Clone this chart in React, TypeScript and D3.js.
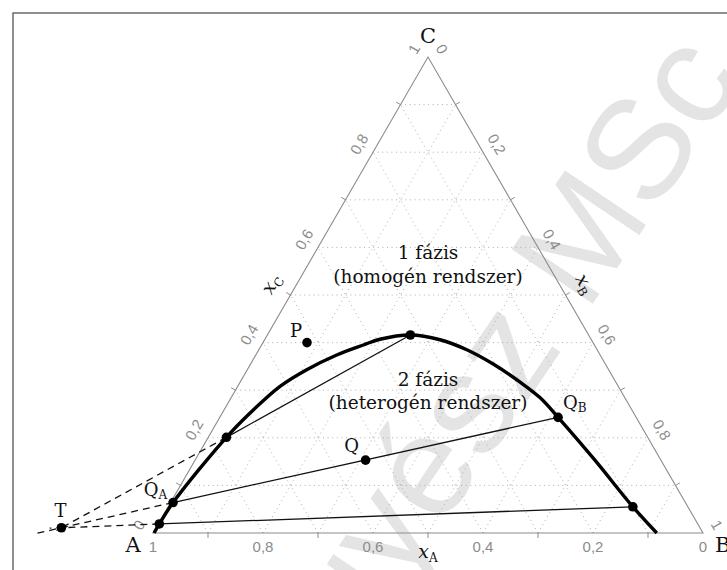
import React from "react";
import * as d3 from "d3";

const W = 727;
const H = 570;

// grid and axis values (fractions)
const gridValues = [0.1, 0.2, 0.3, 0.4, 0.5, 0.6, 0.7, 0.8, 0.9];
const tickValues = [0.1, 0.3, 0.5, 0.7, 0.9];
const labelValues = [0, 0.2, 0.4, 0.6, 0.8, 1];

// binodal curve as (x_B, x_C)
const binodalB = [0.002, 0.002, 0.0045, 0.033, 0.056, 0.077, 0.108, 0.147, 0.185, 0.209, 0.26, 0.319, 0.378, 0.441, 0.509, 0.562, 0.615, 0.727, 0.845, 0.916];
const binodalC = [0, 0.019, 0.064, 0.201, 0.265, 0.308, 0.343, 0.374, 0.395, 0.407, 0.416, 0.406, 0.385, 0.355, 0.317, 0.284, 0.243, 0.153, 0.055, 0];

// tie lines (left end on A-rich branch, right end on B-rich branch)
const tieLeftB = [0.002, 0.0045, 0.033];
const tieLeftC = [0.019, 0.064, 0.201];
const tieRightB = [0.845, 0.615, 0.26];
const tieRightC = [0.055, 0.243, 0.416];
// how far the dashed construction lines run past T
const dashExtend = [0.12, 0.22, 0.03];

// labelled points (x_B, x_C)
const pointNames = ["P", "Q", "T"];
const pointB = [0.08, 0.31, -0.172];
const pointC = [0.4, 0.153, 0.011];

const fmt = (v: number) => (v === 0 || v === 1 ? String(v) : v.toFixed(1).replace(".", ","));

const xPos = d3.scaleLinear().domain([0, 1]).range([153, 703]);
const yPos = d3.scaleLinear().domain([0, 1]).range([533, 57]);
const proj = (b: number, c: number): [number, number] => [xPos(b + c / 2), yPos(c)];

const serif = "DejaVu Serif";
const sans = "Liberation Sans";
const axisGray = "#8c8c8c";

export default function App() {
  const line = d3.line<[number, number]>().curve(d3.curveCatmullRom.alpha(0.5));
  const straight = d3.line<[number, number]>();
  const binodal = binodalB.map((b, i) => proj(b, binodalC[i]));

  const gridLines: [number, number][][] = [];
  gridValues.forEach((v) => {
    gridLines.push([proj(0, v), proj(1 - v, v)]);
    gridLines.push([proj(v, 0), proj(v, 1 - v)]);
    gridLines.push([proj(1 - v, 0), proj(0, 1 - v)]);
  });

  const A = proj(0, 0), B = proj(1, 0), C = proj(0, 1);
  const nL: [number, number] = [-0.866, -0.5];
  const nR: [number, number] = [0.866, -0.5];
  const T = proj(pointB[2], pointC[2]);

  return (
    <svg width={W} height={H} style={{ position: "absolute", left: 0, top: 0, background: "#fff" }}>
      <rect x={0} y={0} width={W} height={H} fill="#fff" />
      <text
        transform="translate(745,78) rotate(-56)"
        textAnchor="end"
        fontFamily={sans}
        fontSize={142}
        fill="#e4e4e4"
      >
        vegyész MSc
      </text>
      <rect x={13} y={13} width={800} height={620} fill="none" stroke="#555" strokeWidth={1.3} />

      {gridLines.map((g, i) => (
        <path key={"g" + i} d={straight(g) || ""} stroke="#a6a6a6" strokeWidth={0.9} strokeDasharray="1 3.6" fill="none" />
      ))}

      <path d={`M${A[0]},${A[1]}L${B[0]},${B[1]}L${C[0]},${C[1]}Z`} fill="none" stroke={axisGray} strokeWidth={1.1} />

      {tickValues.map((v) => {
        const pb = proj(1 - v, 0);
        const pl = proj(0, v);
        const pr = proj(v, 1 - v);
        return (
          <g key={"t" + v} stroke={axisGray} strokeWidth={1}>
            <line x1={pb[0]} y1={pb[1]} x2={pb[0]} y2={pb[1] + 5} />
            <line x1={pl[0]} y1={pl[1]} x2={pl[0] + nL[0] * 5} y2={pl[1] + nL[1] * 5} />
            <line x1={pr[0]} y1={pr[1]} x2={pr[0] + nR[0] * 5} y2={pr[1] + nR[1] * 5} />
          </g>
        );
      })}

      {labelValues.map((v) => {
        const pb = proj(1 - v, 0);
        const pl = proj(0, v);
        const pr = proj(v, 1 - v);
        const lx = pl[0] + nL[0] * 16, ly = pl[1] + nL[1] * 16;
        const rx = pr[0] + nR[0] * 16, ry = pr[1] + nR[1] * 16;
        return (
          <g key={"l" + v} fill={axisGray} fontFamily={sans} fontSize={15} textAnchor="middle">
            <text x={pb[0]} y={pb[1] + 14} dy="0.35em">{fmt(v)}</text>
            <text transform={`translate(${lx},${ly}) rotate(-60)`} dy="0.35em">{fmt(v)}</text>
            <text transform={`translate(${rx},${ry}) rotate(60)`} dy="0.35em">{fmt(v)}</text>
          </g>
        );
      })}

      {/* axis titles */}
      <g fontFamily={serif} fontSize={19} fill="#111">
        <text x={xPos(0.5)} y={558} textAnchor="middle" fontStyle="italic">
          x<tspan fontSize={12} fontStyle="normal" dy={4}>A</tspan>
        </text>
        <text transform={`translate(${proj(0, 0.5)[0] + nL[0] * 22},${proj(0, 0.5)[1] + nL[1] * 22}) rotate(-60)`} textAnchor="middle" dy="0.3em" fontStyle="italic">
          x<tspan fontSize={12} fontStyle="normal" dy={4}>C</tspan>
        </text>
        <text transform={`translate(${proj(0.5, 0.5)[0] + nR[0] * 22},${proj(0.5, 0.5)[1] + nR[1] * 22}) rotate(60)`} textAnchor="middle" dy="0.3em" fontStyle="italic">
          x<tspan fontSize={12} fontStyle="normal" dy={4}>B</tspan>
        </text>
      </g>

      {/* vertex names */}
      <g fontFamily={serif} fontSize={21} fill="#111">
        <text x={A[0] - 20} y={A[1] + 19} textAnchor="middle">A</text>
        <text x={B[0] + 12} y={B[1] + 19}>B</text>
        <text x={C[0]} y={C[1] - 14} textAnchor="middle">C</text>
      </g>

      {/* region names */}
      <g fontFamily={serif} fontSize={18.5} fill="#111" textAnchor="middle">
        <text x={xPos(0.5)} y={259}>1 fázis</text>
        <text x={xPos(0.5)} y={283}>(homogén rendszer)</text>
        <text x={xPos(0.5)} y={386}>2 fázis</text>
        <text x={xPos(0.5)} y={409}>(heterogén rendszer)</text>
      </g>

      {/* dashed construction lines through T */}
      {tieLeftB.map((b, i) => {
        const p = proj(b, tieLeftC[i]);
        const e = dashExtend[i];
        const end: [number, number] = [T[0] + (T[0] - p[0]) * e, T[1] + (T[1] - p[1]) * e];
        return <path key={"d" + i} d={straight([p, end]) || ""} stroke="#111" strokeWidth={1.3} strokeDasharray="7 5" fill="none" />;
      })}

      {/* tie lines */}
      {tieLeftB.map((b, i) => {
        const p = proj(b, tieLeftC[i]);
        const q = proj(tieRightB[i], tieRightC[i]);
        return <path key={"tl" + i} d={straight([p, q]) || ""} stroke="#111" strokeWidth={1.3} fill="none" />;
      })}

      <path d={line(binodal) || ""} stroke="#000" strokeWidth={3.4} fill="none" />

      {/* dots */}
      {tieLeftB.map((b, i) => {
        const p = proj(b, tieLeftC[i]);
        const q = proj(tieRightB[i], tieRightC[i]);
        return (
          <g key={"dt" + i} fill="#000">
            <circle cx={p[0]} cy={p[1]} r={4.8} />
            <circle cx={q[0]} cy={q[1]} r={4.8} />
          </g>
        );
      })}
      {pointNames.map((n, i) => {
        const p = proj(pointB[i], pointC[i]);
        return <circle key={"pt" + n} cx={p[0]} cy={p[1]} r={4.8} fill="#000" />;
      })}

      {/* point labels */}
      <g fontFamily={serif} fontSize={18} fill="#111">
        <text x={proj(pointB[0], pointC[0])[0] - 11} y={proj(pointB[0], pointC[0])[1] - 6} textAnchor="middle">P</text>
        <text x={proj(pointB[1], pointC[1])[0] - 14} y={proj(pointB[1], pointC[1])[1] - 8} textAnchor="middle">Q</text>
        <text x={T[0] - 1} y={T[1] - 11} textAnchor="middle">T</text>
        <text x={proj(tieRightB[1], tieRightC[1])[0] + 5} y={proj(tieRightB[1], tieRightC[1])[1] - 8}>
          Q<tspan fontSize={12} dy={3}>B</tspan>
        </text>
        <text x={proj(tieLeftB[1], tieLeftC[1])[0] - 6} y={proj(tieLeftB[1], tieLeftC[1])[1] - 7} textAnchor="end">
          Q<tspan fontSize={12} dy={3}>A</tspan>
        </text>
      </g>
    </svg>
  );
}
